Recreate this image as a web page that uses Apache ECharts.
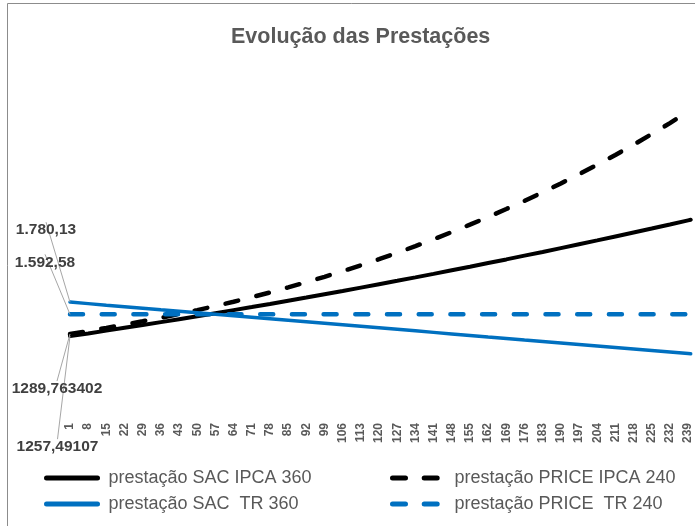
<!DOCTYPE html>
<html>
<head>
<meta charset="utf-8">
<script src="https://cdn.jsdelivr.net/npm/echarts@6/dist/echarts.min.js"></script>
<style>
html,body{margin:0;padding:0;background:#fff;}
#chart{width:695px;height:526px;}
</style>
</head>
<body>
<div id="chart"></div>
<script>
// Month numbers sampled at the labelled ticks (plus the final month 240)
var months = [1,8,15,22,29,36,43,50,57,64,71,78,85,92,99,106,113,120,127,134,141,148,155,162,169,176,183,190,197,204,211,218,225,232,239,240];

var sacIpca360 = [1257.49107,1299,1342,1385,1428,1473,1518,1563,1610,1657,1704,1752,1801,1850,1901,1951,2003,2055,2107,2160,2214,2269,2324,2380,2436,2494,2551,2610,2669,2728,2789,2850,2911,2973,3036,3045];

var priceIpca240 = [1289.763402,1336,1384,1434,1486,1540,1597,1657,1720,1786,1856,1929,2006,2086,2169,2256,2346,2440,2538,2640,2746,2856,2970,3088,3210,3336,3467,3603,3744,3890,4041,4198,4361,4530,4706,4731];

var sacTr360 = [1780.13,1756.9,1733.6,1710.4,1687.2,1663.9,1640.7,1617.5,1594.2,1571.0,1547.7,1524.5,1501.3,1478.0,1454.8,1431.5,1408.3,1385.0,1361.8,1338.6,1315.3,1292.1,1268.9,1245.6,1222.4,1199.1,1175.9,1152.7,1129.4,1106.2,1082.9,1059.7,1036.5,1013.2,990.0,986.7];

var priceTr240 = [1592.58,1592.58,1592.58,1592.58,1592.58,1592.58,1592.58,1592.58,1592.58,1592.58,1592.58,1592.58,1592.58,1592.58,1592.58,1592.58,1592.58,1592.58,1592.58,1592.58,1592.58,1592.58,1592.58,1592.58,1592.58,1592.58,1592.58,1592.58,1592.58,1592.58,1592.58,1592.58,1592.58,1592.58,1592.58,1592.58];

var seriesNames = ['prestação SAC IPCA 360','prestação PRICE IPCA 240','prestação SAC  TR 360','prestação PRICE  TR 240'];

// Category axis: every month of the 240-month horizon
var categories = [];
for (var c = 1; c <= 240; c++) categories.push(String(c));

function fmtBR(v){
  var p = v.toFixed(2).split('.');
  return p[0].replace(/\B(?=(\d{3})+(?!\d))/g, '.') + ',' + p[1];
}
function fmtRaw(v){ return String(v).replace('.', ','); }

function buildData(vals){
  return months.map(function(m, i){
    if (i === 0) return {value:[String(m), vals[i]], label:{show:true}};
    return [String(m), vals[i]];
  });
}

var FONT = 'Liberation Sans';
var labelBase = {
  show:false, position:'inside', fontFamily:FONT, fontWeight:'bold',
  fontSize:15.5, color:'#404040'
};
var labelLineBase = {show:true, lineStyle:{color:'#A6A6A6', width:1}};

function mkSeries(name, vals, color, width, dash, fmt, dx, dy){
  return {
    name:name, type:'line', data:buildData(vals),
    showSymbol:true, symbol:'circle', symbolSize:0,
    lineStyle:{color:color, width:width, type:dash || 'solid', cap:'round'},
    itemStyle:{color:color},
    label:Object.assign({}, labelBase, {formatter:function(p){ return fmt(p.value[1]); }}),
    labelLine:labelLineBase,
    labelLayout:function(p){ return p.dataIndex === 0 ? {dx:dx, dy:dy} : {}; },
    emphasis:{disabled:true},
    z: 2
  };
}

var chart = echarts.init(document.getElementById('chart'), null, {renderer:'canvas'});
var option = {
  animation:false,
  backgroundColor:'#ffffff',
  textStyle:{fontFamily:FONT},
  graphic:[{type:'rect', silent:true, shape:{x:7.5, y:3.5, width:800, height:600},
            style:{fill:'none', stroke:'#8c8c8c', lineWidth:1}}],
  title:{
    text:'Evolução das Prestações', left:226, top:21,
    textStyle:{fontFamily:FONT, fontWeight:'bold', fontSize:21.5, color:'#595959'}
  },
  legend:[
    {data:[seriesNames[0], seriesNames[2]], orient:'vertical', left:44, top:468, padding:0,
     itemWidth:51, itemHeight:20, itemGap:6,
     lineStyle:{width:5}, itemStyle:{opacity:0, borderWidth:0},
     textStyle:{fontFamily:FONT, fontSize:18, color:'#595959', padding:[0,0,0,6], lineHeight:20}},
    {data:[seriesNames[1], seriesNames[3]], orient:'vertical', left:390, top:468, padding:0,
     itemWidth:51, itemHeight:20, itemGap:6,
     lineStyle:{width:5}, itemStyle:{opacity:0, borderWidth:0},
     textStyle:{fontFamily:FONT, fontSize:18, color:'#595959', padding:[0,0,0,6], lineHeight:20}}
  ],
  grid:{left:70, right:4.3, top:92.5, bottom:108, containLabel:false},
  xAxis:{
    type:'category', data:categories, boundaryGap:false,
    axisLine:{show:false}, axisTick:{show:false}, splitLine:{show:false},
    axisLabel:{interval:6, rotate:90, margin:5, fontFamily:FONT, fontWeight:'bold', fontSize:12, color:'#595959'}
  },
  yAxis:{type:'value', min:0, max:5000, show:false, splitLine:{show:false}},
  series:[
    mkSeries(seriesNames[0], sacIpca360, '#000000', 4, 'solid', fmtRaw, -12.5, 111),
    mkSeries(seriesNames[1], priceIpca240, '#000000', 4.5, [13,18.7], fmtRaw, -13, 55),
    mkSeries(seriesNames[2], sacTr360, '#0070C0', 3.5, 'solid', fmtBR, -24, -72),
    mkSeries(seriesNames[3], priceTr240, '#0070C0', 4.5, [13,18.7], fmtBR, -25, -52)
  ]
};
chart.setOption(option);
</script>
</body>
</html>
